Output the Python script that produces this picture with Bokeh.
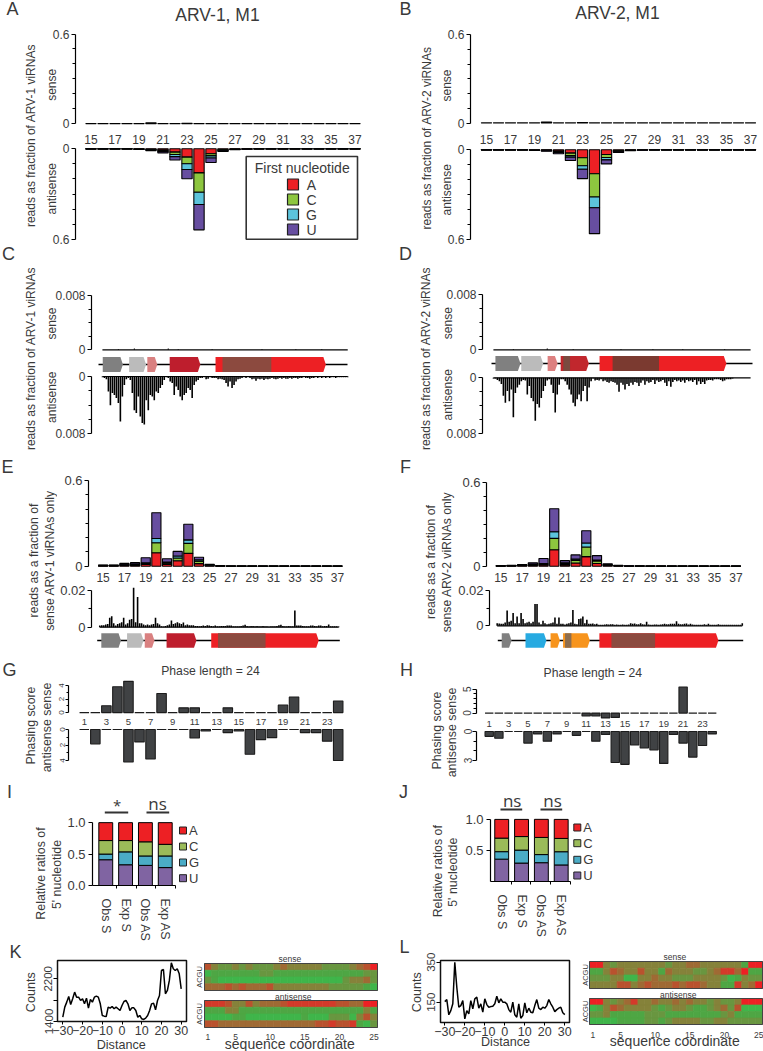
from math import pi
from bokeh.plotting import figure
from bokeh.layouts import row, column
from bokeh.models import (Range1d, LinearAxis, FixedTicker, Label, BoxAnnotation,
                          LinearColorMapper, ColumnDataSource)
from bokeh.transform import transform
from bokeh.embed import file_html
from bokeh.resources import INLINE

FONT = "Liberation Sans"
INK = "#3a3a3a"
NT = {"A": "#ed2024", "C": "#8dc63f", "G": "#5cc4dc", "U": "#674ea0"}
NT2 = {"A": "#ed2024", "C": "#9bbb59", "G": "#4bacc6", "U": "#8064a2"}
HEAT = ["#3fb54a", "#4ea644", "#699640", "#85823a", "#9f6a34", "#b9522e", "#d33a2a", "#ed2024"]

# ---------- read lengths 15..37 ----------
lengths = list(range(15, 38))
A_sense = [.001, .001, .001, .001, .001, .006, .001, .001, .004, .001, .001, .001, .001, .001, .001, .001, .001, .001, .001, .001, .001, .001, .001]
A_as_A = [.0002, .0002, .0002, .0002, .001, .003, .008, .022, .055, .16, .033, .006, .002, .001, .0002, .0002, .0002, .0002, .0002, .0002, .0002, .0002, .0002]
A_as_C = [.0002, .0002, .0002, .0002, .001, .003, .006, .016, .044, .128, .014, .004, .001, .0005, .0002, .0002, .0002, .0002, .0002, .0002, .0002, .0002, .0002]
A_as_G = [.0002, .0002, .0002, .0002, .001, .002, .005, .014, .038, .082, .014, .003, .001, .0005, .0002, .0002, .0002, .0002, .0002, .0002, .0002, .0002, .0002]
A_as_U = [.0002, .0002, .0002, .0002, .001, .004, .009, .022, .062, .168, .03, .005, .002, .001, .0002, .0002, .0002, .0002, .0002, .0002, .0002, .0002, .0002]
B_sense = [.001, .001, .001, .001, .001, .006, .001, .001, .004, .001, .001, .001, .001, .001, .001, .001, .001, .001, .001, .001, .001, .001, .001]
B_as_A = [.0002, .0002, .0002, .0002, .001, .002, .008, .022, .053, .16, .031, .006, .002, .001, .0002, .0002, .0002, .0002, .0002, .0002, .0002, .0002, .0002]
B_as_C = [.0002, .0002, .0002, .0002, .001, .002, .006, .016, .053, .155, .02, .004, .001, .0005, .0002, .0002, .0002, .0002, .0002, .0002, .0002, .0002, .0002]
B_as_G = [.0002, .0002, .0002, .0002, .001, .002, .004, .011, .024, .071, .016, .003, .001, .0005, .0002, .0002, .0002, .0002, .0002, .0002, .0002, .0002, .0002]
B_as_U = [.0002, .0002, .0002, .0002, .001, .004, .008, .022, .062, .173, .027, .005, .002, .001, .0002, .0002, .0002, .0002, .0002, .0002, .0002, .0002, .0002]
E_A = [.002, .002, .005, .006, .012, .095, .012, .038, .09, .018, .004, .001, .0005, .0005, .0005, .0005, .0005, .0005, .0005, .0005, .0005, .0005, .0005]
E_C = [.002, .002, .005, .006, .008, .07, .01, .02, .07, .018, .003, .001, .0005, .0005, .0005, .0005, .0005, .0005, .0005, .0005, .0005, .0005, .0005]
E_G = [.002, .002, .004, .004, .004, .03, .008, .014, .025, .009, .003, .001, .0005, .0005, .0005, .0005, .0005, .0005, .0005, .0005, .0005, .0005, .0005]
E_U = [.002, .002, .006, .009, .035, .18, .022, .032, .109, .018, .004, .001, .0005, .0005, .0005, .0005, .0005, .0005, .0005, .0005, .0005, .0005, .0005]
F_A = [.001, .002, .003, .006, .01, .118, .01, .023, .069, .02, .005, .002, .001, .001, .0005, .0005, .0005, .0005, .0005, .0005, .0005, .0005, .0005]
F_C = [.001, .001, .003, .006, .006, .081, .008, .018, .069, .018, .004, .001, .001, .0005, .0005, .0005, .0005, .0005, .0005, .0005, .0005, .0005, .0005]
F_G = [.001, .001, .002, .004, .004, .048, .007, .01, .028, .006, .003, .001, .0005, .0005, .0005, .0005, .0005, .0005, .0005, .0005, .0005, .0005, .0005]
F_U = [.002, .002, .004, .009, .035, .164, .015, .03, .088, .032, .006, .002, .0005, .0005, .0005, .0005, .0005, .0005, .0005, .0005, .0005, .0005, .0005]

# ---------- coverage profiles, in units of 1e-4 ----------
C_anti = [1, 2, 4, 21, 40, 23, 26, 30, 37, 63, 28, 12, 4, 2, 5, 23, 47, 51, 28, 56, 65, 67, 33, 47, 26, 28, 33, 21, 23, 16, 12, 5, 1, 2, 7, 9, 26, 14, 19, 28, 33, 26, 23, 16, 19, 30, 12, 7, 5, 2, 2, 1, 4, 3, 1, 2, 2, 2, 4, 3, 4, 5, 9, 14, 7, 16, 12, 7, 4, 3, 2, 1, 2, 1, 2, 4, 3, 6, 3, 4, 3, 5, 3, 4, 3, 2, 3, 4, 3, 2, 3, 2, 3, 3, 2, 3, 2, 2, 3, 2, 2, 1, 2, 2, 3, 2, 2, 1, 2, 1, 2, 1, 2, 1, 2, 1, 1, 2, 1, 1, 1, 1, 1, 1]
D_anti = [1, 1, 3, 5, 9, 26, 36, 19, 34, 17, 57, 22, 14, 10, 5, 3, 4, 24, 12, 29, 34, 62, 38, 43, 29, 19, 12, 4, 2, 10, 22, 50, 24, 10, 2, 2, 5, 10, 17, 24, 36, 41, 31, 24, 34, 19, 12, 34, 14, 5, 1, 4, 3, 4, 2, 5, 4, 6, 7, 5, 6, 7, 10, 20, 7, 10, 17, 9, 12, 7, 10, 6, 7, 12, 7, 4, 10, 5, 7, 6, 3, 9, 4, 6, 5, 3, 7, 12, 5, 13, 6, 3, 5, 4, 6, 4, 7, 3, 5, 4, 6, 3, 10, 5, 9, 6, 9, 4, 3, 3, 4, 2, 2, 2, 3, 5, 4, 2, 2, 2, 1, 0, 0, 0, 0, 0, 0, 0, 0, 0]
E_cov = [9, 11, 11, 15, 18, 51, 60, 22, 9, 18, 22, 27, 51, 15, 22, 40, 45, 215, 27, 164, 22, 22, 15, 11, 15, 11, 15, 18, 51, 22, 15, 5, 4, 7, 11, 15, 36, 18, 22, 27, 22, 18, 25, 11, 15, 11, 11, 11, 7, 7, 5, 7, 9, 7, 11, 9, 7, 5, 9, 5, 5, 7, 7, 7, 9, 9, 9, 5, 5, 5, 5, 7, 9, 13, 7, 5, 7, 7, 5, 7, 5, 5, 7, 5, 5, 4, 5, 5, 5, 7, 11, 13, 7, 5, 5, 7, 5, 5, 91, 9, 9, 9, 7, 5, 5, 5, 9, 9, 7, 5, 9, 9, 5, 7, 7, 15, 5, 5, 5, 5, 4]
F_cov = [15, 13, 11, 11, 19, 87, 23, 28, 72, 15, 53, 15, 72, 38, 15, 19, 23, 15, 23, 123, 123, 19, 9, 28, 15, 9, 11, 15, 19, 47, 11, 47, 11, 11, 8, 11, 15, 19, 89, 11, 9, 38, 42, 53, 15, 34, 11, 11, 13, 9, 11, 6, 6, 6, 8, 9, 8, 9, 9, 6, 8, 6, 6, 8, 6, 6, 8, 15, 11, 13, 9, 9, 15, 9, 8, 23, 8, 6, 6, 8, 8, 6, 8, 9, 11, 9, 9, 11, 11, 11, 26, 11, 9, 9, 11, 13, 8, 11, 8, 6, 6, 6, 6, 6, 9, 6, 11, 6, 6, 6, 6, 9, 6, 6, 6, 6, 6, 6, 6, 6, 6, 6, 6, 15]
C_sense_bin = [8, 16, 33, 38, 55, 80, 97, 110]
C_sense_val = [1, 2, 2, 1, 1, 1, 1, 1]
D_sense_bin = [10, 27, 40, 64, 80, 95, 116]
D_sense_val = [1, 2, 1, 1, 1, 1, 1]

# ---------- genes, percent of genome ----------
ARV1_gene_start = [1.7, 12.3, 19.6, 28.6, 47.0]
ARV1_gene_end = [9.8, 19.1, 23.6, 40.9, 91.3]
ARV1_gene_col = ["#808080", "#bbbbbb", "#d98080", "#be1e2d", "#ed2024"]
ARV1_over = [(49.8, 69.4, "#8c4a3f")]
D_gene_start = [1.5, 11.4, 21.5, 26.5, 41.4]
D_gene_end = [11.1, 19.8, 25.3, 37.3, 90.0]
D_gene_col = ["#808080", "#bbbbbb", "#dd8080", "#c1272d", "#ed2024"]
D_over = [(27.5, 30.1, "#7a4a3f"), (46.4, 64.2, "#7b3a30")]
F_gene_start = [1.6, 11.3, 21.5, 26.6, 41.4]
F_gene_end = [5.6, 19.8, 25.3, 37.5, 89.9]
F_gene_col = ["#808080", "#27aae1", "#f7941d", "#f7941d", "#ed2024"]
F_over = [(27.4, 30.0, "#8c6d4f"), (46.3, 64.1, "#8c4a3f")]

# ---------- phasing ----------
phase = list(range(1, 25))
G_sense = [0, 0, 1.0, 3.8, 4.6, 0, 0, 2.8, 0, .7, .7, 0, 0, .7, 0, 0, 0, 0, 1.1, 2.3, 0, 0, 0, 1.7]
G_anti = [0, 1.85, 0, 0, 4.2, 1.6, 3.8, 0, 0, 0, 1.1, .2, 0, .4, .2, 3.2, 1.3, 1.05, 0, 0, .4, .4, 1.5, 4.0]
H_sense = [0, 0, 0, 0, 0, 0, 0, 0, 0, 0, -.6, -.6, -1.0, -.9, 0, 0, 0, 0, 0, 0, 5.45, 0, 0, 0]
H_anti = [.5, .7, 0, 0, 1.2, .25, 1.0, .25, 0, .4, 0, 1.0, .3, 3.2, 3.4, 1.4, 1.7, 1.9, 3.3, .3, 1.2, 2.65, 1.45, .25]

# ---------- 5' nucleotide ----------
cats = ["Obs S", "Exp S", "Obs AS", "Exp AS"]
I_U = [.41, .33, .32, .285]
I_G = [.09, .205, .15, .185]
I_C = [.215, .18, .225, .185]
I_A = [.285, .285, .305, .345]
J_U = [.363, .30, .306, .27]
J_G = [.12, .208, .13, .212]
J_C = [.217, .217, .275, .213]
J_A = [.30, .275, .29, .305]

# ---------- overlap counts ----------
distance = list(range(-30, 31))
K_counts = [1481, 1669, 1763, 1869, 1719, 1825, 1950, 1856, 1856, 1794, 1825, 1731, 1838, 1650, 1813, 1763, 1856, 1875, 1856, 1731, 1513, 1500, 1494, 1669, 1650, 1681, 1638, 1669, 1638, 1606, 1700, 1775, 1794, 1731, 1606, 1656, 1656, 1606, 1481, 1513, 1450, 1438, 1463, 1513, 1606, 1731, 1744, 1619, 1794, 1888, 2356, 2375, 1919, 1981, 2169, 2500, 2388, 2356, 2388, 2294, 2013]
L_counts = [153, 163, 87, 108, 142, 350, 225, 125, 133, 158, 67, 108, 92, 158, 117, 167, 175, 120, 142, 100, 167, 138, 125, 128, 130, 142, 180, 147, 167, 150, 150, 142, 113, 100, 150, 87, 75, 142, 70, 83, 147, 97, 120, 100, 97, 133, 163, 120, 113, 125, 120, 133, 163, 142, 125, 103, 113, 120, 125, 97, 88]

# ---------- sequence logos as heat levels 0..7 ----------
K_s_A = [5, 3, 2, 2, 3, 2, 3, 2, 2, 2, 3, 4, 3, 3, 3, 3, 3, 2, 2, 2, 2, 3, 4, 5, 7]
K_s_C = [0, 1, 1, 1, 1, 1, 1, 1, 2, 2, 1, 1, 1, 1, 1, 1, 1, 1, 1, 1, 1, 1, 1, 2, 2]
K_s_G = [2, 1, 0, 0, 0, 0, 0, 0, 0, 0, 0, 0, 0, 0, 0, 0, 0, 0, 0, 0, 2, 3, 3, 4, 2]
K_s_U = [4, 4, 4, 5, 4, 5, 4, 4, 4, 5, 3, 3, 3, 3, 3, 3, 3, 3, 2, 2, 2, 2, 2, 1, 0]
K_a_A = [6, 6, 6, 5, 3, 3, 5, 3, 4, 4, 4, 5, 6, 6, 6, 6, 6, 6, 6, 5, 5, 4, 4, 7, 7]
K_a_C = [1, 1, 1, 3, 3, 1, 1, 1, 1, 1, 1, 1, 1, 1, 1, 1, 1, 1, 1, 1, 1, 1, 1, 3, 1]
K_a_G = [0, 0, 0, 0, 1, 1, 0, 0, 0, 0, 0, 0, 0, 0, 1, 0, 0, 0, 2, 2, 2, 0, 3, 5, 3]
K_a_U = [5, 5, 4, 4, 4, 4, 4, 4, 4, 4, 4, 4, 4, 4, 4, 4, 5, 5, 6, 5, 5, 6, 1, 0, 2]
L_s_A = [7, 7, 3, 2, 3, 3, 3, 3, 3, 3, 3, 2, 3, 3, 4, 4, 3, 3, 3, 3, 3, 3, 1, 7, 7]
L_s_C = [1, 1, 3, 5, 4, 3, 3, 5, 3, 3, 1, 4, 3, 3, 3, 2, 2, 3, 4, 6, 6, 4, 7, 1, 1]
L_s_G = [2, 2, 2, 3, 3, 0, 0, 3, 3, 4, 3, 3, 2, 2, 2, 3, 3, 3, 3, 2, 0, 1, 3, 2, 2]
L_s_U = [3, 3, 3, 3, 5, 5, 3, 4, 5, 4, 4, 4, 5, 4, 5, 5, 4, 3, 3, 1, 1, 6, 3, 4, 7]
L_a_A = [7, 7, 3, 2, 3, 4, 6, 3, 3, 4, 3, 3, 4, 3, 4, 3, 3, 2, 3, 2, 2, 3, 7, 7, 7]
L_a_C = [0, 1, 3, 5, 4, 3, 3, 3, 3, 2, 1, 2, 3, 3, 2, 1, 1, 2, 3, 4, 2, 5, 0, 0, 0]
L_a_G = [2, 2, 3, 1, 1, 1, 1, 1, 2, 2, 2, 1, 1, 1, 1, 1, 1, 1, 1, 2, 3, 1, 1, 1, 1]
L_a_U = [0, 0, 0, 0, 1, 1, 1, 1, 2, 2, 1, 2, 3, 3, 3, 3, 2, 2, 3, 3, 2, 2, 2, 2, 2]

frames = {}


def rng(v0, p0, v1, p1, a, b):
    s = (v1 - v0) / (p1 - p0)
    return Range1d(v0 + (a - p0) * s, v0 + (b - p0) * s)


def tile(box, frame=None, xmap=(0, 0, 1, 1), ymap=(0, 0, 1, 1)):
    frame = frame or box
    cx0, cy0, cx1, cy1 = box
    fx0, fy0, fx1, fy1 = frame
    p = figure(width=cx1 - cx0, height=cy1 - cy0,
               x_range=rng(*xmap, fx0, fx1), y_range=rng(*ymap, fy1, fy0),
               x_axis_location=None, y_axis_location=None, toolbar_location=None,
               output_backend="svg",
               min_border_left=fx0 - cx0, min_border_right=cx1 - fx1,
               min_border_top=fy0 - cy0, min_border_bottom=cy1 - fy1)
    p.outline_line_color = None
    p.grid.grid_line_color = None
    p.border_fill_color = None
    p.background_fill_color = None
    frames[p.id] = frame
    return p


def txt(p, x, y, s, size=12, angle=0, align="center", color=INK, font=FONT):
    f = frames[p.id]
    p.add_layout(Label(x=x - f[0], y=f[3] - y, x_units="screen", y_units="screen", text=s,
                       text_font=font, text_font_size=f"{size}px", text_color=color,
                       text_align=align, text_baseline="middle", angle=angle))


def box(p, x0, y0, x1, y1, fill=None, line=None, lw=1):
    f = frames[p.id]
    p.add_layout(BoxAnnotation(left=x0 - f[0], right=x1 - f[0], top=f[3] - y0, bottom=f[3] - y1,
                               left_units="screen", right_units="screen", top_units="screen",
                               bottom_units="screen", fill_color=fill, fill_alpha=1 if fill else 0,
                               line_color=line, line_width=lw, line_alpha=1 if line else 0))


def yaxis(p, ticks, minors, bounds, labels, size=12, vertical=False, tick=4, standoff=2):
    ax = LinearAxis(ticker=FixedTicker(ticks=ticks, minor_ticks=minors), bounds=bounds,
                    major_label_overrides=labels, major_label_text_font=FONT,
                    major_label_text_font_size=f"{size}px", major_label_text_color=INK,
                    major_tick_in=0, major_tick_out=tick, minor_tick_in=0, minor_tick_out=tick - 1,
                    major_label_standoff=standoff, axis_line_color="black", axis_line_width=1.2,
                    major_tick_line_width=1.1, minor_tick_line_width=1.1)
    if vertical:
        ax.major_label_orientation = "vertical"
    p.add_layout(ax, "left")
    return ax


def xlabels(p, ticks, center_y, size=12):
    f = frames[p.id]
    ax = LinearAxis(ticker=FixedTicker(ticks=ticks), major_label_text_font=FONT,
                    major_label_text_font_size=f"{size}px", major_label_text_color=INK,
                    major_tick_line_color=None, minor_tick_line_color=None, axis_line_color=None,
                    major_label_standoff=round(center_y - f[3] - .55 * size))
    p.add_layout(ax, "below")
    return ax


def stack(p, x, series, colors, width=.86, lw=1.1):
    base = [0] * len(x)
    for vals, col in zip(series, colors):
        top = [b + v for b, v in zip(base, vals)]
        p.vbar(x=x, width=width, bottom=base, top=top, fill_color=col, line_color="black", line_width=lw)
        base = top


def spikes(p, vals, color="black"):
    xs = list(range(len(vals)))
    ys = [v * 1e-4 for v in vals]
    p.segment(x0=xs, x1=xs, y0=[0] * len(xs), y1=ys, line_color=color, line_width=1.6)
    p.line([xs[0], xs[-1]], [0, 0], line_color="black", line_width=1.2)


def genes(p, starts, ends, cols, overlays, lw=1.6):
    p.line([0, 100], [0, 0], line_color="black", line_width=lw)
    tip = 1.0
    xs = [[s, e - tip, e, e - tip, s] for s, e in zip(starts, ends)]
    ys = [[1, 1, 0, -1, -1] for _ in starts]
    p.patches(xs, ys, fill_color=cols, line_color=None)
    for s, e, c in overlays:
        p.quad(left=s, right=e, bottom=-1, top=1, fill_color=c, line_color=None)


def heat(p, a, c, g, u):
    xs, ys, vs = [], [], []
    for r, vals in enumerate([a, c, g, u]):
        for i, v in enumerate(vals):
            xs.append(i + 1)
            ys.append(r)
            vs.append(v)
    mapper = LinearColorMapper(palette=HEAT, low=-.5, high=7.5)
    src = ColumnDataSource(dict(x=xs, y=ys, v=vs))
    p.rect("x", "y", 1, 1, source=src, fill_color=transform("v", mapper),
           line_color=transform("v", mapper), line_width=.7)
    p.quad(left=.5, right=25.5, bottom=3.5, top=-.5, fill_color=None, line_color="#444444", line_width=1)


V = pi / 2  # rotated reading bottom to top

# ===================== A / B =====================
def panel_ab(letter, letter_x, title, title_x, cx0, strip_r, start, ax_x, xr, x15, sense, series, top0, top6, anti0, anti6,
             lab_x, lab_y, lab, s_x, s_y, a_y, xlab_y, legend):
    st = tile((cx0, 0, strip_r, 243))
    txt(st, letter_x, 8, letter, 18)
    txt(st, lab_x, lab_y, lab, 12, V)
    txt(st, s_x, s_y, "sense", 12, V)
    txt(st, s_x, a_y, "antisense", 12, V)
    t = tile((start, 0, xr, 146), (ax_x, 0, xr, 145), (15, x15, 37, x15 + 264), (0, top0, .6, top6))
    t.vbar(x=lengths, width=.86, bottom=0, top=sense, fill_color="black", line_color="black", line_width=1.1)
    yaxis(t, [0, .6], [.1, .2, .3, .4, .5], (0, .6), {0: "0", .6: "0.6"})
    xlabels(t, lengths[::2], xlab_y)
    txt(t, title_x, 16, title, 17.5)
    a = tile((start, 140, xr, 248), (ax_x, 147, xr, 248), (15, x15, 37, x15 + 264), (0, anti0, .6, anti6))
    a.margin = (-6, 0, 0, 0)
    stack(a, lengths, series, [NT["A"], NT["C"], NT["G"], NT["U"]])
    yaxis(a, [0, .6], [.1, .2, .3, .4, .5], (0, .6), {0: "0", .6: "0.6"})
    if legend:
        box(a, 245.7, 156, 357, 238.7, line="#333333", lw=1.6)
        txt(a, 301.7, 167.7, "First nucleotide", 14)
        for yy, n in zip([184, 199, 214, 229], "ACGU"):
            box(a, 287, yy - 5.5, 298, yy + 5.5, fill=NT[n], line="#222222", lw=1.2)
            txt(a, 311, yy, n, 14)
    return row(st, column(t, a, margin=(0, 0, -5, start - strip_r)))


A_panel = panel_ab("A", 12, "ARV-1, M1", 217, 0, 58, 48, 75, 380, 90.5, A_sense, [A_as_A, A_as_C, A_as_G, A_as_U],
                   125, 34, 148.3, 238.7, 30.7, 135, "reads as fraction of ARV-1 viRNAs", 51.7, 84.3, 188.3, 137, True)
B_panel = panel_ab("B", 405, "ARV-2, M1", 617, 380, 454, 444, 470, 763, 486, B_sense, [B_as_A, B_as_C, B_as_G, B_as_U],
                   126, 35, 149.3, 239.3, 426.7, 137.5, "reads as fraction of ARV-2 viRNAs", 446.7, 85, 189.3, 138.3, False)


# ===================== C / D =====================
def panel_cd(letter, letter_x, cx0, strip_r, start, xr, ax_x, b0, b1, g0, g1, s0, s8, a0, a8, gy, anti, sb, sv, gstart, gend, gcol, gover,
             lab_x, lab, s_x, s_y, a_y):
    st = tile((cx0, 243, strip_r, 455))
    txt(st, letter_x, 253, letter, 18)
    txt(st, lab_x, 358, lab, 12, V)
    txt(st, s_x, s_y, "sense", 12, V)
    txt(st, s_x, a_y, "antisense", 12, V)
    n = len(anti) - 1
    t = tile((start, 243, xr, 358), (ax_x, 243, xr, 351), (0, b0, n, b1), (0, s0, .008, s8))
    t.line([0, n], [0, 0], line_color="black", line_width=1.2)
    t.segment(x0=sb, x1=sb, y0=[0] * len(sb), y1=[v * 1e-4 for v in sv], line_color="black", line_width=1)
    yaxis(t, [0, .008], [.002, .004, .006], (0, .008), {0: "0", .008: "0.008"})
    g = tile((start, 352, xr, 374), None, (0, g0, 100, g1), (1, gy - 7.4, -1, gy + 7.4))
    g.margin = (-6, 0, 0, 0)
    genes(g, gstart, gend, gcol, gover)
    a = tile((start, 368, xr, 455), (ax_x, 375, xr, 455), (0, b0, n, b1), (0, a0, .008, a8))
    a.margin = (-6, 0, 0, 0)
    spikes(a, anti)
    yaxis(a, [0, .008], [.002, .004, .006], (0, .008), {0: "0", .008: "0.008"})
    return row(st, column(t, row(g), a, margin=(0, 0, 0, start - strip_r)))


C_panel = panel_cd("C", 8, 0, 58, 52, 380, 89, 100, 347, 98, 347, 349.3, 295, 376, 433.3, 364, C_anti, C_sense_bin, C_sense_val,
                   ARV1_gene_start, ARV1_gene_end, ARV1_gene_col, ARV1_over, 30.7, "reads as fraction of ARV-1 viRNAs", 51.7, 323, 396.7)
D_panel = panel_cd("D", 405, 380, 454, 443, 763, 480, 491, 750, 491, 752, 349.3, 294.3, 377.3, 432.7, 363, D_anti, D_sense_bin, D_sense_val,
                   D_gene_start, D_gene_end, D_gene_col, D_over, 425.7, "reads as fraction of ARV-2 viRNAs", 447.7, 322.7, 394.3)


# ===================== E / F =====================
def panel_ef(letter, letter_x, cx0, strip_r, xr, ax_x, x15, x37, top0, top6, series, ax2, b0, b1, c0, c2, cov,
             g0, g1, gstart, gend, gcol, gover, lab1_x, lab2_x, lab_y, l1, l2):
    st = tile((cx0, 455, strip_r, 652))
    txt(st, letter_x, 466, letter, 18)
    txt(st, lab1_x, lab_y, l1, 12.2, V)
    txt(st, lab2_x, lab_y, l2, 12.2, V)
    t = tile((strip_r, 455, xr, 584), (ax_x, 455, xr, 583), (15, x15, 37, x37), (0, top0, .6, top6))
    stack(t, lengths, series, [NT["A"], NT["C"], NT["G"], NT["U"]])
    yaxis(t, [0, .6], [.1, .2, .3, .4, .5], (0, .6), {0: "0", .6: "0.6"}, 13)
    xlabels(t, lengths[::2], 576.7)
    n = len(cov) - 1
    m = tile((strip_r, 582, xr, 636), (ax2, 584, xr, 628), (0, b0, n, b1), (0, c0, .02, c2))
    m.margin = (-2, 0, 0, 0)
    spikes(m, cov)
    yaxis(m, [0, .02], [.01], (0, .02), {0: "0", .02: "0.02"}, 13)
    g = tile((strip_r, 630, xr, 652), None, (0, g0, 100, g1), (1, 632.7, -1, 647.3))
    g.margin = (-6, 0, 0, 0)
    genes(g, gstart, gend, gcol, gover, 1.4)
    return row(st, column(row(t), row(m), row(g)))


E_panel = panel_ef("E", 7, 0, 57, 380, 88, 102.6, 337, 569.3, 481, [E_A, E_C, E_G, E_U], 90, 98.3, 338, 626.7, 590, E_cov,
                   96.7, 339.3, ARV1_gene_start, ARV1_gene_end, ARV1_gene_col, ARV1_over,
                   33.3, 49, 560, "reads as a fraction of", "sense ARV-1 viRNAs only")
F_panel = panel_ef("F", 405, 380, 455, 763, 486, 500.3, 735.4, 569.3, 482.7, [F_A, F_C, F_G, F_U], 488, 495.7, 741.7, 625.3, 590, F_cov,
                   497.3, 742.7, F_gene_start, F_gene_end, F_gene_col, F_over,
                   430.7, 446.7, 561.5, "reads as a fraction of", "sense ARV-2 viRNAs only")


# ===================== G / H =====================
def bars_phase(p, vals):
    p.vbar(x=phase, width=.86, bottom=0, top=vals, fill_color="#404244", line_color="#1c1c1c", line_width=1.1)


st_g = tile((0, 652, 53, 783))
txt(st_g, 9, 669, "G", 18)
txt(st_g, 30.7, 725, "Phasing score", 12.3, V)
txt(st_g, 46.7, 727, "antisense sense", 12.4, V)
g_t = tile((50, 652, 380, 727), (68, 652, 380, 727), (1, 83.8, 24, 337.7), (0, 718.3, 4, 688.3))
bars_phase(g_t, G_sense)
yaxis(g_t, [0, 2, 4], [1, 3], (0, 4), {0: "0", 2: "2", 4: "4"}, 8, True, 3, 1)
xlabels(g_t, phase[::2], 724, 9.5)
txt(g_t, 210, 677.7, "Phase length = 24", 12.2)
g_a = tile((50, 724, 380, 783), (68, 727, 380, 783), (1, 83.8, 24, 337.7), (0, 729, 4, 760))
g_a.margin = (-3, 0, 0, 0)
bars_phase(g_a, G_anti)
yaxis(g_a, [0, 2, 4], [1, 3], (0, 4), {0: "0", 2: "2", 4: "4"}, 8, True, 3, 1)
G_panel = row(st_g, column(g_t, g_a, margin=(0, 0, 0, -3)))

st_h = tile((380, 652, 458, 783))
txt(st_h, 406, 669, "H", 18)
txt(st_h, 436.7, 730, "Phasing score", 12.3, V)
txt(st_h, 451.7, 732, "antisense sense", 12.4, V)
h_t = tile((456, 652, 763, 729), (476, 652, 763, 729), (1, 488.7, 24, 711.7), (0, 717.7, 5, 691.7))
bars_phase(h_t, H_sense)
yaxis(h_t, [0, 5], [1, 2, 3, 4], (0, 5), {0: "0", 5: "5"}, 10, True, 4, 1)
xlabels(h_t, phase[::2], 725.7, 9.5)
txt(h_t, 592.3, 678.3, "Phase length = 24", 12.2)
h_a = tile((456, 725, 763, 783), (476, 729, 763, 783), (1, 488.7, 24, 711.7), (0, 731, 3, 760))
h_a.margin = (-4, 0, 0, 0)
bars_phase(h_a, H_anti)
yaxis(h_a, [0, 3], [1, 2], (0, 3), {0: "0", 3: "3"}, 10, True, 4, 1)
H_panel = row(st_h, column(h_t, h_a, margin=(0, 0, 0, -2)))


# ===================== I / J =====================
def panel_ij(letter, letter_x, sb, bx, fr, x1, x4, y0, y1, series, minors, bnd, lab1, lab2, lab_y, stars, leg_x, leg_ys):
    st = tile(sb)
    txt(st, letter_x, 791.7, letter, 18)
    txt(st, lab1, lab_y, "Relative ratios of", 12.4, V)
    txt(st, lab2, lab_y + 1, "5' nucleotide", 12.4, V)
    p = tile(bx, fr, (1, x1, 4, x4), (0, y0, 1, y1))
    stack(p, [1, 2, 3, 4], series, [NT2["U"], NT2["G"], NT2["C"], NT2["A"]], .7, 1)
    yaxis(p, [0, .5, 1], [], (0, 1), {0: "0.0", .5: "0.5", 1: "1.0"}, 13, False, 4, 3)
    ax = LinearAxis(ticker=FixedTicker(ticks=[1, 2, 3, 4], minor_ticks=minors), bounds=bnd,
                    major_label_overrides=dict(zip([1, 2, 3, 4], cats)), major_label_orientation="vertical",
                    major_label_text_font=FONT, major_label_text_font_size="12.5px", major_label_text_color=INK,
                    major_tick_line_color=None, minor_tick_in=0, minor_tick_out=3, major_label_standoff=7,
                    axis_line_color="black", axis_line_width=1.2)
    p.add_layout(ax, "below")
    for sx, lx0, lx1, ly, s, sy in stars:
        box(p, lx0, ly - 1, lx1, ly + 1, fill="#333333")
        txt(p, sx, sy, s, 17 if s == "ns" else 15, font="Open Sans")
    for yy, n in zip(leg_ys, "ACGU"):
        box(p, leg_x, yy - 3.5, leg_x + 7, yy + 3.5, fill=NT2[n], line="#222222")
        txt(p, leg_x + 9.5, yy, n, 13, align="left")
    return row(st, column(p))


I_panel = panel_ij("I", 9, (0, 783, 64, 944), (64, 783, 380, 944), (91, 783, 380, 888), 104.3, 164, 888, 823.3, [I_U, I_G, I_C, I_A],
                   [.32, 1.54, 2.55, 3.5, 4.5], (.32, 4.5), 40.7, 56.7, 873,
                   [(115.7, 103.3, 126.7, 815, "*", 807.5), (156, 145, 167.7, 815, "ns", 806)], 178, [833, 849, 865, 880.7])
J_panel = panel_ij("J", 403, (380, 783, 459, 940), (459, 783, 763, 940), (490, 783, 763, 884), 501.2, 560.7, 884.3, 820, [J_U, J_G, J_C, J_A],
                   [.37, 1.47, 2.45, 3.45, 4.45], (.37, 4.45), 437.3, 452.7, 870.7,
                   [(511.7, 500, 521.7, 812, "ns", 803), (552, 540, 561.7, 812, "ns", 803)], 573.3, [830, 845.7, 862.3, 878])


# ===================== K / L =====================
def panel_line(letter, letter_x, letter_y, sb, bx, fr, x0, x1, yt, ty, counts, yticks, ylabs, c_x, dist_box, dist_x, dist_y):
    st = tile((sb[0], sb[1] - 8, sb[2], sb[3]))
    st.margin = (-8, 0, 0, 0)
    txt(st, letter_x, letter_y, letter, 18)
    txt(st, c_x, 991.7, "Counts", 12.6, V)
    p = tile(bx, fr, (-30, x0, 30, x1), (yt[0], ty[0], yt[1], ty[1]))
    p.line(distance, counts, line_color="black", line_width=1.5)
    p.outline_line_color = "#111111"
    p.outline_line_width = 1.5
    ax = yaxis(p, yticks, [], "auto", ylabs, 11.5, True, 4, 1)
    ax.axis_line_color = None
    xa = LinearAxis(ticker=FixedTicker(ticks=[-30, -20, -10, 0, 10, 20, 30]), major_label_text_font=FONT,
                    major_label_text_font_size="12.5px", major_label_text_color=INK,
                    major_tick_in=0, major_tick_out=3, minor_tick_line_color=None, axis_line_color=None,
                    major_label_standoff=1)
    p.add_layout(xa, "below")
    d = tile(dist_box)
    d.margin = (dist_box[1] - bx[3], 0, 0, 0)
    txt(d, dist_x, dist_y, "Distance", 12.6)
    return row(st, column(row(p), d))


K_line = panel_line("K", 15, 951.7, (0, 944, 38, 1051), (38, 944, 192, 1041), (57, 960, 186, 1021), 62.3, 180.7, (1400, 2200), (1021, 978.3), K_counts,
                    [1400, 1800, 2200], {1400: "1400", 1800: "", 2200: "2200"}, 30.7, (38, 1037, 192, 1051), 120.7, 1044)
L_line = panel_line("L", 404, 946.7, (380, 940, 424, 1051), (424, 940, 578, 1042), (440, 960, 569, 1022), 444.3, 564.3, (150, 350), (1001.7, 961.7), L_counts,
                    [150, 350], {150: "150", 350: "350"}, 416.7, (424, 1034, 578, 1051), 505, 1041)


def heat_pair(b_x0, b_x1, t_top, mid, fx0, fx1, y_s, y_a, s_series, a_series, s_y, a_y, acgu_x, head_x, anti_x, tick_y, seq_y):
    s = tile((b_x0, t_top, b_x1, mid), None, (.5, fx0, 25.5, fx1), (-.5, y_s[0], 3.5, y_s[1]))
    heat(s, *s_series)
    txt(s, head_x, s_y, "sense", 8.5)
    txt(s, acgu_x, (y_s[0] + y_s[1]) / 2, "ACGU", 7.5, V)
    a = tile((b_x0, mid, b_x1, 1051), None, (.5, fx0, 25.5, fx1), (-.5, y_a[0], 3.5, y_a[1]))
    heat(a, *a_series)
    txt(a, anti_x, a_y, "antisense", 8.5)
    txt(a, acgu_x, (y_a[0] + y_a[1]) / 2, "ACGU", 7.5, V)
    xlabels(a, [1, 5, 10, 15, 20, 25], tick_y, 8.5)
    txt(a, head_x, seq_y, "sequence coordinate", 14)
    return column(s, a)


K_heat = heat_pair(192, 380, 944, 993, 204, 377, (963, 990), (1000, 1027), (K_s_A, K_s_C, K_s_G, K_s_U), (K_a_A, K_a_C, K_a_G, K_a_U),
                   958.3, 996, 199, 289.3, 292.7, 1031.7, 1043)
L_heat = heat_pair(578, 763, 940, 990, 589, 762, (961, 988), (998, 1024), (L_s_A, L_s_C, L_s_G, L_s_U), (L_a_A, L_a_C, L_a_G, L_a_U),
                   956, 994.3, 585.3, 674.3, 677.7, 1030, 1040.3)

left = column(A_panel, C_panel, E_panel, G_panel, I_panel, row(K_line, K_heat))
right = column(B_panel, D_panel, F_panel, H_panel, J_panel, row(L_line, L_heat))
root = row(left, right)

open("out.html", "w").write(file_html(root, INLINE))
